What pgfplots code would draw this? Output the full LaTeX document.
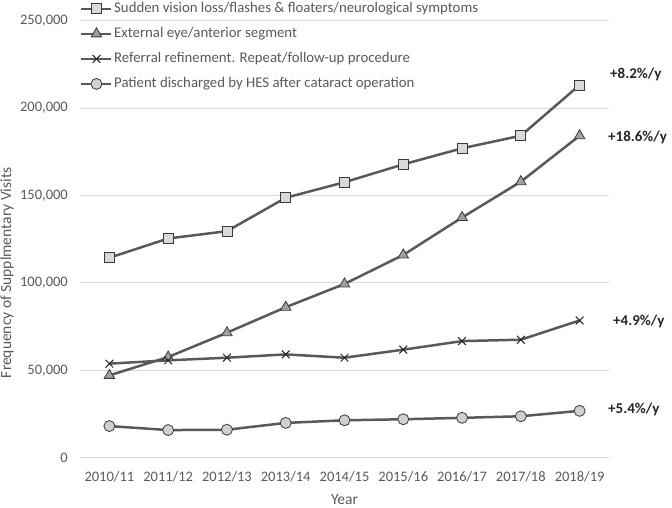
\documentclass[border=0pt]{standalone}
\usepackage{pgfplots}
\pgfplotsset{compat=1.18}
\usepackage{fontspec}
\setmainfont{Carlito}
\definecolor{txt}{HTML}{595959}
\definecolor{lne}{HTML}{595959}
\definecolor{edge}{HTML}{3A3A3A}
\definecolor{grd}{HTML}{D9D9D9}
\definecolor{sqf}{HTML}{D9D9D9}
\definecolor{trf}{HTML}{A0A0A0}
\definecolor{cif}{HTML}{D0D0D0}
\definecolor{ann}{HTML}{262626}
\begin{document}
\fontsize{15bp}{18bp}\selectfont
\begin{tikzpicture}
\begin{axis}[
  scale only axis, width=529bp, height=437bp,
  xmin=-0.5, xmax=8.5, ymin=0, ymax=250000,
  xtick={0,...,8},
  xticklabels={2010/11,2011/12,2012/13,2013/14,2014/15,2015/16,2016/17,2017/18,2018/19},
  ytick={0,50000,100000,150000,200000,250000},
  scaled y ticks=false,
  /pgf/number format/fixed,
  /pgf/number format/1000 sep={,},
  /pgf/number format/assume math mode=true,
  axis line style={draw=none},
  major tick length=0pt,
  ymajorgrids, grid style={grd, line width=1bp},
  tick label style={font=\fontsize{14.5bp}{17bp}\selectfont, text=txt},
  xticklabel style={yshift=-9bp},
  yticklabel style={xshift=-7bp},
  xlabel={Year}, ylabel={Frequency of Supplmentary Visits},
  label style={font=\fontsize{15.5bp}{18bp}\selectfont, text=txt},
  xlabel style={yshift=-1.5bp},
  ylabel style={at={(rel axis cs:0,0.423)}, anchor=center, rotate=0, yshift=73bp},
  legend cell align=left,
  legend style={draw=none, fill=none, at={(rel axis cs:0,1)}, yshift=18.5bp, anchor=north west,
    font=\fontsize{14.8bp}{18bp}\selectfont, text=txt, inner sep=0pt, row sep=12bp,
    nodes={inner xsep=1.5bp, inner ysep=0bp, text height=10bp, text depth=3bp}},
  legend image code/.code={\draw[#1, mark repeat=2, mark phase=2] plot coordinates {(0bp,0bp) (15bp,0bp) (30bp,0bp)};},
  every axis plot/.append style={line width=2.5bp, color=lne},
  clip=false,
]
\addplot[mark=square*, mark size=5bp, mark options={fill=sqf, draw=edge, line width=0.8bp}]
 coordinates {(0,114400) (1,125400) (2,129600) (3,148700) (4,157600) (5,167800) (6,177000) (7,184200) (8,213200)};
\addlegendentry{Sudden vision loss/flashes \& floaters/neurological symptoms}
\addplot[mark=triangle*, mark size=6bp, mark options={fill=trf, draw=edge, line width=0.8bp}]
 coordinates {(0,47100) (1,57600) (2,71500) (3,86100) (4,99400) (5,116000) (6,137400) (7,157900) (8,184200)};
\addlegendentry{External eye/anterior segment}
\addplot[mark=x, mark size=5.5bp, mark options={draw=ann, line width=1bp}]
 coordinates {(0,53800) (1,55700) (2,57200) (3,59100) (4,57200) (5,61800) (6,66700) (7,67500) (8,78500)};
\addlegendentry{Referral refinement. Repeat/follow-up procedure}
\addplot[mark=*, mark size=5.5bp, mark options={fill=cif, draw=edge, line width=0.8bp}]
 coordinates {(0,18100) (1,15800) (2,16000) (3,19900) (4,21400) (5,22000) (6,22800) (7,23700) (8,26800)};
\addlegendentry{Patient discharged by HES after cataract operation}
\begin{scope}[every node/.style={anchor=west, font=\bfseries\fontsize{15bp}{18bp}\selectfont, text=ann, inner sep=0pt}]
\node at (axis cs:8.5,219500) [xshift=1bp] {+8.2\%/y};
\node at (axis cs:8.5,183500) [xshift=-1bp] {+18.6\%/y};
\node at (axis cs:8.5,78000) [xshift=4bp] {+4.9\%/y};
\node at (axis cs:8.5,27700) [xshift=-1bp] {+5.4\%/y};
\end{scope}
\end{axis}
\pgfresetboundingbox
\path (current axis.south west) ++(-80bp,-50.3bp) rectangle ++(672bp,508bp);
\end{tikzpicture}
\end{document}
